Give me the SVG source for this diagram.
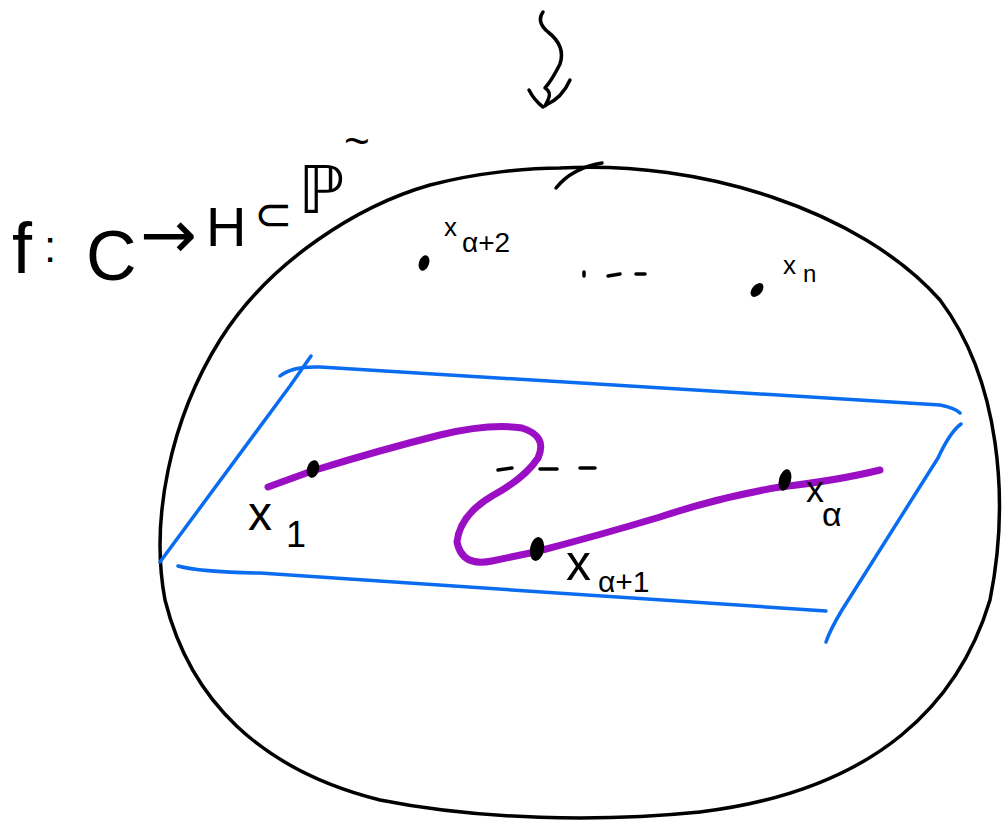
<svg xmlns="http://www.w3.org/2000/svg" width="1004" height="822" viewBox="0 0 1004 822">
<style>
.ink{fill:none;stroke:#000;stroke-width:3.5;stroke-linecap:round;stroke-linejoin:round}
.blue{fill:none;stroke:#0a6cf0;stroke-width:3.5;stroke-linecap:round;stroke-linejoin:round}
.purple{fill:none;stroke:#9b0fc4;stroke-width:7;stroke-linecap:round;stroke-linejoin:round}
.lbl{font-family:"Liberation Sans","DejaVu Sans",sans-serif;fill:#000}
.dot{fill:#000}
</style>
<rect width="1004" height="822" fill="#fff"/>
<g id="arrow-top">
<path class="ink" d="M543 12 Q536 22 548 32 Q566 46 560 64 Q552 80 545 88 Q552 92 548 100 L545 106"/>
<path class="ink" d="M529 90 Q534 100 543 107 M570 80 Q562 98 546 105"/>
</g>
<g id="surface">
<path class="ink" d="M560 168 C700 160 860 210 940 300 C1000 380 1010 500 990 600 C960 700 880 790 700 812 C600 822 480 820 380 800 C260 770 190 700 165 600 C150 520 170 420 220 340 C270 260 360 205 430 185 C480 172 530 168 560 168"/>
<path class="ink" d="M556 188 Q572 168 602 163"/>
</g>
<g id="title">
<text class="lbl" x="12" y="273" font-size="72">f</text>
<text class="lbl" x="44" y="262" font-size="44">:</text>
<text class="lbl" x="86" y="280" font-size="70">C</text>
<text class="lbl" x="140" y="258" font-size="68" style="font-family:'DejaVu Sans',sans-serif">→</text>
<text class="lbl" x="206" y="246" font-size="56">H</text>
<text class="lbl" x="254" y="230" font-size="46">⊂</text>
<text class="lbl" x="298" y="213" font-size="66">ℙ</text>
<text class="lbl" x="344" y="156" font-size="44">~</text>
</g>
<g id="plane">
<path class="blue" d="M280 376 Q292 366 320 367 L940 405 Q955 408 960 413"/>
<path class="blue" d="M311 356 Q304 366 290 386 L160 562"/>
<path class="blue" d="M178 566 Q200 572 260 573 L826 611"/>
<path class="blue" d="M961 424 Q950 432 938 458 L842 610 Q830 630 826 642"/>
</g>
<g id="path">
<path class="purple" d="M268 487 L312 471 Q380 450 440 435 Q490 423 522 428 Q548 436 538 458 Q525 478 492 496 Q460 515 457 542 Q462 567 492 561 L535 552 Q600 535 660 517 Q720 497 780 487 Q840 480 880 470"/>
</g>
<g id="dashes">
<path class="ink" stroke-width="2.5" d="M498 470 L512 468 M540 469 L557 469 M580 468 L595 468"/>
<path class="ink" stroke-width="2" d="M584 272 L584 276 M608 276 L620 274 M636 274 L645 274"/>
</g>
<g id="pt-x1">
<ellipse class="dot" cx="313" cy="469" rx="6" ry="9" transform="rotate(15 313 469)"/>
<text class="lbl" x="248" y="530" font-size="48">x</text>
<text class="lbl" x="286" y="547" font-size="36">1</text>
</g>
<g id="pt-xa">
<ellipse class="dot" cx="785" cy="480" rx="6" ry="11" transform="rotate(15 785 480)"/>
<text class="lbl" x="806" y="502" font-size="36">x</text>
<text class="lbl" x="822" y="526" font-size="34">α</text>
</g>
<g id="pt-xa1">
<ellipse class="dot" cx="537" cy="549" rx="7" ry="12" transform="rotate(10 537 549)"/>
<text class="lbl" x="566" y="580" font-size="50">x</text>
<text class="lbl" x="598" y="592" font-size="30">α+1</text>
</g>
<g id="pt-xa2">
<ellipse class="dot" cx="424" cy="263" rx="5" ry="8" transform="rotate(20 424 263)"/>
<text class="lbl" x="444" y="236" font-size="26">x</text>
<text class="lbl" x="462" y="252" font-size="28">α+2</text>
</g>
<g id="pt-xn">
<ellipse class="dot" cx="757" cy="290" rx="5" ry="8" transform="rotate(40 757 290)"/>
<text class="lbl" x="783" y="274" font-size="26">x</text>
<text class="lbl" x="803" y="282" font-size="24">n</text>
</g>
</svg>
